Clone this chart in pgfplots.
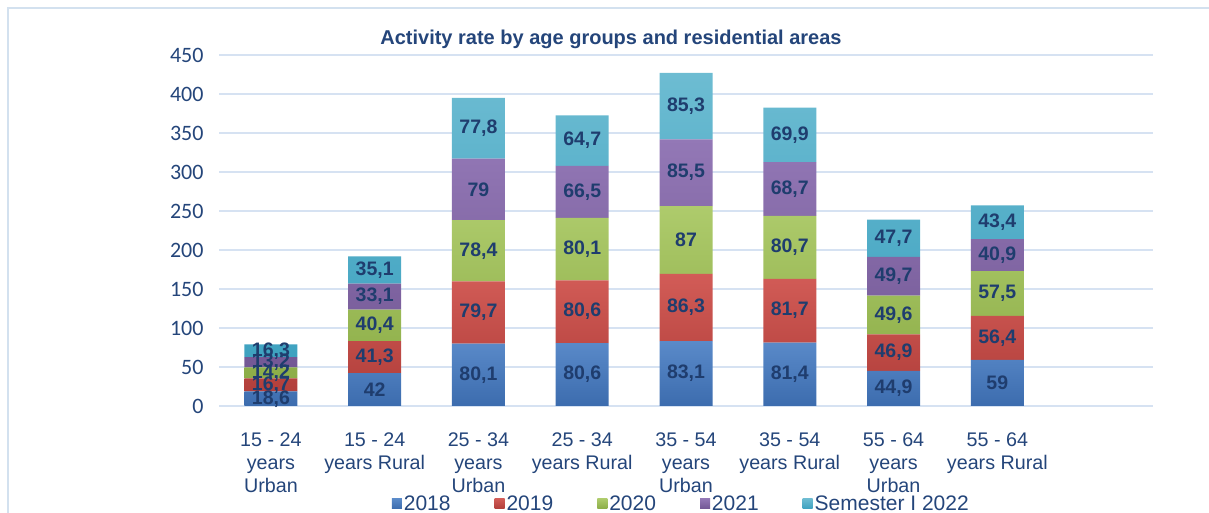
\documentclass[border=0pt]{standalone}
\usepackage{pgfplots}
\pgfplotsset{compat=1.18}
\usepackage{fontspec}
\setmainfont{Liberation Sans}
\newfontfamily\carlito{Carlito}
\definecolor{textcol}{HTML}{24457A}
\definecolor{labcol}{HTML}{1F3D6E}
\definecolor{gridcol}{HTML}{D6E2F2}
\definecolor{framecol}{HTML}{D3E1EF}
\definecolor{aT}{HTML}{5A8AC9}\definecolor{aB}{HTML}{3C6CAE}
\definecolor{bT}{HTML}{D25C57}\definecolor{bB}{HTML}{B23F3B}
\definecolor{cT}{HTML}{AECB6C}\definecolor{cB}{HTML}{8CAD47}
\definecolor{dT}{HTML}{9378B6}\definecolor{dB}{HTML}{735895}
\definecolor{eT}{HTML}{6DBCD2}\definecolor{eB}{HTML}{3EA2C0}
\pgfplotstableread{
x v2018 v2019 v2020 v2021 v2022
0 18.6 16.7 14.2 13.2 16.3
1 42.0 41.3 40.4 33.1 35.1
2 80.1 79.7 78.4 79.0 77.8
3 80.6 80.6 80.1 66.5 64.7
4 83.1 86.3 87.0 85.5 85.3
5 81.4 81.7 80.7 68.7 69.9
6 44.9 46.9 49.6 49.7 47.7
7 59.0 56.4 57.5 40.9 43.4
}\datatable
\pgfplotstableread{
x y lab
0 9.3 18,6
0 26.95 16,7
0 42.4 14,2
0 56.1 13,2
0 70.85 16,3
1 21 42
1 62.65 41,3
1 103.5 40,4
1 140.25 33,1
1 174.35 35,1
2 40.05 80,1
2 119.95 79,7
2 199 78,4
2 277.7 79
2 356.1 77,8
3 40.3 80,6
3 120.9 80,6
3 201.25 80,1
3 274.55 66,5
3 340.15 64,7
4 41.55 83,1
4 126.25 86,3
4 212.9 87
4 299.15 85,5
4 384.55 85,3
5 40.7 81,4
5 122.25 81,7
5 203.45 80,7
5 278.15 68,7
5 347.45 69,9
6 22.45 44,9
6 68.35 46,9
6 116.6 49,6
6 166.25 49,7
6 214.95 47,7
7 29.5 59
7 87.2 56,4
7 144.15 57,5
7 193.35 40,9
7 235.5 43,4
}\labtable
\begin{document}
\begin{tikzpicture}[x=1pt,y=1pt]
\useasboundingbox (0,0) rectangle (1209,513);
\draw[framecol, line width=2pt] (8,-10) -- (8,505) -- (1230,505);
\node[font=\fontsize{20}{24}\bfseries, text=textcol, xscale=1.0] at (611,474) {Activity rate by age groups and residential areas};
\begin{axis}[
  at={(219pt,107pt)}, anchor=south west,
  width=934pt, height=351pt, scale only axis,
  ybar stacked, bar width=53pt,
  xmin=-0.5, xmax=8.5, ymin=0, ymax=450,
  ytick={0,50,...,450},
  xtick={0,...,7},
  xticklabels={{15 - 24\\years\\Urban},{15 - 24\\years Rural},{25 - 34\\years\\Urban},{25 - 34\\years Rural},{35 - 54\\years\\Urban},{35 - 54\\years Rural},{55 - 64\\years\\Urban},{55 - 64\\years Rural}},
  xticklabel style={align=center, font=\fontsize{19.7}{23}\selectfont, text=textcol, yshift=-23pt},
  yticklabel style={font=\carlito\fontsize{22}{26}\selectfont, text=textcol, xshift=-12pt},
  /pgf/number format/assume math mode=true,
  axis x line*=bottom, axis y line*=left,
  y axis line style={draw=none},
  x axis line style={draw=gridcol, line width=2pt},
  tick style={draw=none},
  ymajorgrids, grid style={gridcol, line width=1.4pt},
  legend style={at={(0.495,-0.278)}, anchor=center, draw=none, fill=none,
    legend columns=5, font=\fontsize{21}{24}\selectfont, text=textcol,
    nodes={inner xsep=2pt},
    /tikz/every even column/.append style={column sep=42pt}},
  legend image code/.code={\path[#1,draw=none] (0pt,-5pt) rectangle (10pt,5pt);},
]
\addplot[draw=none, top color=aT, bottom color=aB] table[x=x,y=v2018]{\datatable};
\addplot[draw=none, top color=bT, bottom color=bB] table[x=x,y=v2019]{\datatable};
\addplot[draw=none, top color=cT, bottom color=cB] table[x=x,y=v2020]{\datatable};
\addplot[draw=none, top color=dT, bottom color=dB] table[x=x,y=v2021]{\datatable};
\addplot[draw=none, top color=eT, bottom color=eB] table[x=x,y=v2022]{\datatable};
\legend{2018,2019,2020,2021,Semester I 2022}
\end{axis}
\begin{axis}[
  at={(219pt,107pt)}, anchor=south west,
  width=934pt, height=351pt, scale only axis,
  xmin=-0.5, xmax=8.5, ymin=0, ymax=450, hide axis, clip=false]
\addplot[draw=none, mark=none, nodes near coords, point meta=explicit symbolic,
  nodes near coords style={anchor=center, inner sep=0pt, font=\fontsize{19.5}{22}\bfseries, text=labcol}]
  table[x=x,y=y,meta=lab]{\labtable};
\end{axis}
\end{tikzpicture}
\end{document}
